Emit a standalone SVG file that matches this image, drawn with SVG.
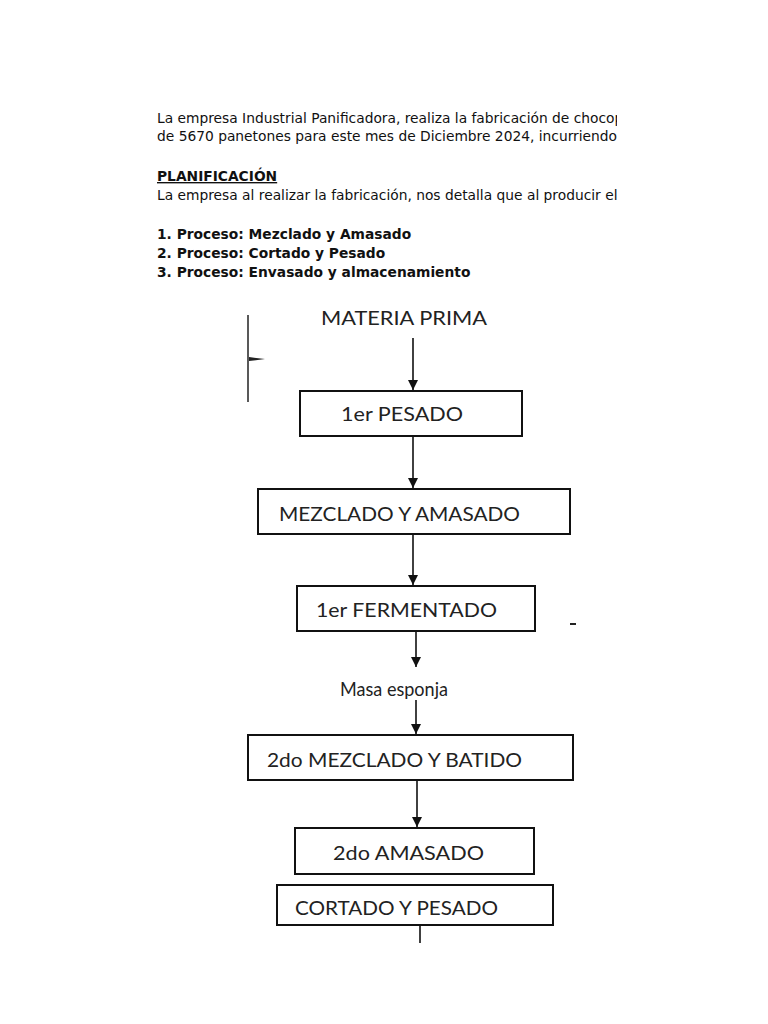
<svg xmlns="http://www.w3.org/2000/svg" width="768" height="1024" viewBox="0 0 768 1024">
<style>
.t{font-family:"DejaVu Sans",sans-serif;font-size:13.8px;fill:#111}
.b{font-weight:bold}
.box{fill:#fff;stroke:#111;stroke-width:2}
.lbl{font-family:"Lato","Open Sans",sans-serif;font-size:19px;fill:#222}
.con{stroke:#111;stroke-width:1.6;fill:none}
</style>
<defs>
<clipPath id="clip"><rect x="0" y="0" width="617" height="1024"/></clipPath>
<marker id="ah" markerWidth="12" markerHeight="12" refX="10" refY="5" orient="auto" markerUnits="userSpaceOnUse">
<path d="M0,0 L10,5 L0,10 z" fill="#111"/>
</marker>
</defs>
<rect width="768" height="1024" fill="#fff"/>
<g id="intro" clip-path="url(#clip)">
<text class="t" x="157" y="123">La empresa Industrial Panificadora, realiza la fabricación de chocopanetones</text>
<text class="t" x="157" y="141">de 5670 panetones para este mes de Diciembre 2024, incurriendo en</text>
<text class="t b" x="157" y="181" text-decoration="underline">PLANIFICACIÓN</text>
<text class="t" x="157" y="200">La empresa al realizar la fabricación, nos detalla que al producir el</text>
<text class="t b" x="157" y="239">1. Proceso: Mezclado y Amasado</text>
<text class="t b" x="157" y="258">2. Proceso: Cortado y Pesado</text>
<text class="t b" x="157" y="277">3. Proceso: Envasado y almacenamiento</text>
</g>
<g id="marks">
<line x1="248" y1="315" x2="248" y2="402" stroke="#222" stroke-width="1.5"/>
<path d="M249,357 L265,359 L249,361 z" fill="#222"/>
<line x1="570" y1="624" x2="576" y2="624" stroke="#222" stroke-width="2"/>
</g>
<g id="connectors">
<line class="con" x1="413" y1="338" x2="413" y2="390" marker-end="url(#ah)"/>
<line class="con" x1="413" y1="436" x2="413" y2="488" marker-end="url(#ah)"/>
<line class="con" x1="413" y1="534" x2="413" y2="585" marker-end="url(#ah)"/>
<line class="con" x1="416" y1="631" x2="416" y2="667" marker-end="url(#ah)"/>
<line class="con" x1="416" y1="700" x2="416" y2="734" marker-end="url(#ah)"/>
<line class="con" x1="417" y1="780" x2="417" y2="827" marker-end="url(#ah)"/>
<line class="con" x1="420" y1="925" x2="420" y2="943"/>
</g>
<g id="n0"><text class="lbl" x="321" y="325" textLength="166" lengthAdjust="spacingAndGlyphs">MATERIA PRIMA</text></g>
<g id="n1"><rect class="box" x="300" y="391" width="222" height="45"/><text class="lbl" x="341" y="421" textLength="122" lengthAdjust="spacingAndGlyphs">1er PESADO</text></g>
<g id="n2"><rect class="box" x="258" y="489" width="312" height="45"/><text class="lbl" x="279" y="521" textLength="241" lengthAdjust="spacingAndGlyphs">MEZCLADO Y AMASADO</text></g>
<g id="n3"><rect class="box" x="297" y="586" width="238" height="45"/><text class="lbl" x="316" y="617" textLength="181" lengthAdjust="spacingAndGlyphs">1er FERMENTADO</text></g>
<g id="n4"><text class="lbl" x="340" y="696" textLength="108" lengthAdjust="spacingAndGlyphs">Masa esponja</text></g>
<g id="n5"><rect class="box" x="248" y="735" width="325" height="45"/><text class="lbl" x="267" y="767" textLength="255" lengthAdjust="spacingAndGlyphs">2do MEZCLADO Y BATIDO</text></g>
<g id="n6"><rect class="box" x="295" y="828" width="239" height="46"/><text class="lbl" x="333" y="860" textLength="151" lengthAdjust="spacingAndGlyphs">2do AMASADO</text></g>
<g id="n7"><rect class="box" x="277" y="885" width="276" height="40"/><text class="lbl" x="295" y="915" textLength="203" lengthAdjust="spacingAndGlyphs">CORTADO Y PESADO</text></g>
</svg>
